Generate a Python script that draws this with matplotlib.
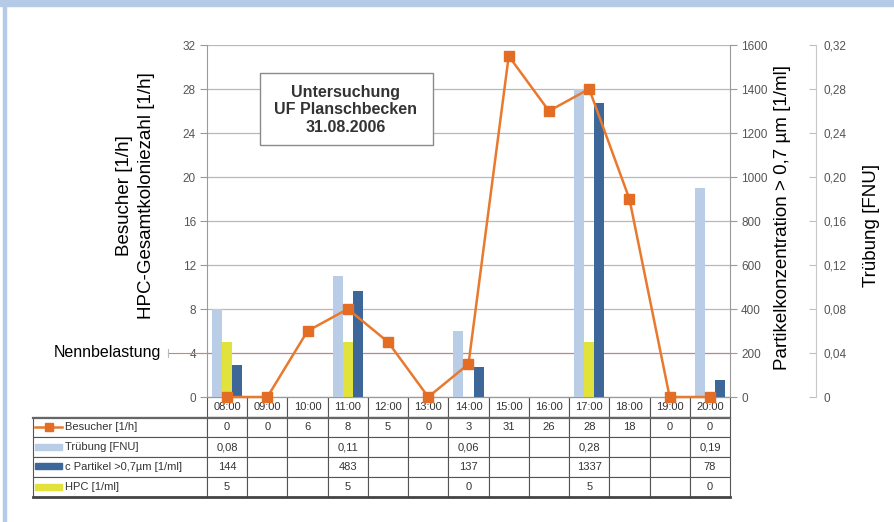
import matplotlib
matplotlib.use("Agg")
import matplotlib.pyplot as plt
import matplotlib.ticker as mticker
from matplotlib.patches import Rectangle
from matplotlib.lines import Line2D
import numpy as np

plt.rcParams["font.family"] = ["Liberation Sans", "DejaVu Sans"]

# ── data ───────────────────────────────────────────────────────────────
zeiten   = ["08:00", "09:00", "10:00", "11:00", "12:00", "13:00", "14:00",
            "15:00", "16:00", "17:00", "18:00", "19:00", "20:00"]
besucher = [0, 0, 6, 8, 5, 0, 3, 31, 26, 28, 18, 0, 0]
truebung = [0.08, None, None, 0.11, None, None, 0.06, None, None, 0.28, None, None, 0.19]
partikel = [144, None, None, 483, None, None, 137, None, None, 1337, None, None, 78]
hpc      = [5, None, None, 5, None, None, 0, None, None, 5, None, None, 0]
nennbelastung = 4

row_labels = ["Besucher [1/h]", "Trübung [FNU]", "c Partikel >0,7µm [1/ml]", "HPC [1/ml]"]

C_LINE  = "#e8792d"
C_TRUEB = "#b9cde6"
C_PART  = "#3d6699"
C_HPC   = "#e2e23c"
C_FRAME = "#b4cae6"

W, H = 895, 522
fig = plt.figure(figsize=(W / 100, H / 100), dpi=100)

# light blue frame (top band + left line)
fig.patches.append(Rectangle((0, 1 - 6 / H), 1, 6 / H, transform=fig.transFigure,
                             color=C_FRAME, zorder=0))
fig.patches.append(Rectangle((3 / W, 0), 3 / W, 1, transform=fig.transFigure,
                             color=C_FRAME, zorder=0))

ax = fig.add_axes([207 / W, 1 - 397 / H, 523 / W, 352 / H])
ax_p = ax.twinx()
ax_t = ax.twinx()
ax_v = ax.twinx()

x = np.arange(len(zeiten))
bw = 0.25


def pick(vals):
    idx = [i for i, v in enumerate(vals) if v is not None]
    return np.array(idx), np.array([vals[i] for i in idx])


# ── left axis: grid, Nennbelastung, HPC ─────────────────────────────────
ax.set_xlim(-0.5, len(zeiten) - 0.5)
ax.set_ylim(0, 32)
ax.set_yticks(range(0, 33, 4))
ax.set_xticks([])
ax.yaxis.grid(True, color="#b8b8b8", lw=0.9, zorder=0)
ax.set_axisbelow(True)
for s in ["top", "right"]:
    ax.spines[s].set_visible(False)
ax.spines["left"].set_color("#9a9a9a")
ax.spines["bottom"].set_color("#9a9a9a")
ax.tick_params(axis="y", direction="out", length=5, color="#9a9a9a",
               labelsize=8.5, labelcolor="#555555", pad=3)

x_ext = -0.5 - 39 / (523 / len(zeiten))
ax.plot([x_ext, len(zeiten) - 0.5], [nennbelastung, nennbelastung],
        color="#e27a6c", lw=0.8, zorder=1, clip_on=False)
ax.plot([x_ext, x_ext], [nennbelastung - 0.4, nennbelastung + 0.4],
        color="#bbbbbb", lw=0.8, clip_on=False)
fig.text(161 / W, 1 - 353 / H, "Nennbelastung", fontsize=11.5,
         ha="right", va="center")

ix, vals = pick(hpc)
ax.bar(ix, vals, bw, color=C_HPC, zorder=2)

# ── right axis 1: particles ─────────────────────────────────────────────
ax_p.set_ylim(0, 1600)
ax_p.set_yticks(range(0, 1601, 200))
for s in ["top", "left", "bottom"]:
    ax_p.spines[s].set_visible(False)
ax_p.spines["right"].set_color("#9a9a9a")
ax_p.tick_params(axis="y", direction="out", length=5, color="#9a9a9a",
                 labelsize=8.5, labelcolor="#555555", pad=3)
ix, vals = pick(partikel)
ax_p.bar(ix + bw, vals, bw, color=C_PART, zorder=2)

# ── right axis 2: turbidity ─────────────────────────────────────────────
ax_t.set_ylim(0, 0.32)
ax_t.set_yticks(np.arange(0, 0.33, 0.04))
ax_t.yaxis.set_major_formatter(mticker.FuncFormatter(
    lambda v, _: "0" if abs(v) < 1e-9 else f"{v:.2f}".replace(".", ",")))
for s in ["top", "left", "bottom"]:
    ax_t.spines[s].set_visible(False)
ax_t.spines["right"].set_position(("outward", 62))
ax_t.spines["right"].set_color("#c8c8c8")
ax_t.tick_params(axis="y", direction="in", length=5, color="#c0c0c0",
                 labelsize=8.5, labelcolor="#555555", pad=5)
ix, vals = pick(truebung)
ax_t.bar(ix - bw, vals, bw, color=C_TRUEB, zorder=2)

# ── visitors line on top ────────────────────────────────────────────────
ax_v.set_ylim(0, 32)
ax_v.axis("off")
ax_v.plot(x, besucher, color=C_LINE, lw=1.8, marker="s", ms=6.5,
          mfc="#e36d24", mec="#e36d24", clip_on=False, zorder=5)

# ── title box ───────────────────────────────────────────────────────────
box = Rectangle(((260 - 207) / 523, (397 - 145) / 352), 173 / 523, 72 / 352,
                transform=ax.transAxes, facecolor="white", edgecolor="#8a8a8a",
                lw=1.0, zorder=3)
ax.add_patch(box)
ax.text((346 - 207) / 523, (397 - 110) / 352,
        "Untersuchung\nUF Planschbecken\n31.08.2006",
        transform=ax.transAxes, ha="center", va="center", fontsize=11.5,
        fontweight="bold", color="#333333", linespacing=1.2, zorder=4)

# ── axis labels ─────────────────────────────────────────────────────────
fig.text(125 / W, 1 - 196 / H, "Besucher [1/h]", rotation=90,
         fontsize=13.5, ha="center", va="center")
fig.text(147 / W, 1 - 196 / H, "HPC-Gesamtkoloniezahl [1/h]", rotation=90,
         fontsize=13.5, ha="center", va="center")
fig.text(783 / W, 1 - 217 / H, "Partikelkonzentration > 0,7 µm [1/ml]",
         rotation=90, fontsize=13.5, ha="center", va="center")
fig.text(872 / W, 1 - 225 / H, "Trübung [FNU]", rotation=90,
         fontsize=13.5, ha="center", va="center")

# ── data table ──────────────────────────────────────────────────────────
def fmt(vals, dec=False):
    out = []
    for v in vals:
        if v is None:
            out.append("")
        elif dec:
            out.append(f"{v:.2f}".replace(".", ","))
        else:
            out.append(f"{v:d}")
    return out


cell_text = [
    [row_labels[0]] + fmt(besucher),
    [row_labels[1]] + fmt(truebung, dec=True),
    [row_labels[2]] + fmt(partikel),
    [row_labels[3]] + fmt(hpc),
]
lab_w = 174 / 523
col_w = [lab_w] + [1 / len(zeiten)] * len(zeiten)
tbl = ax.table(cellText=cell_text, colLabels=[""] + zeiten, colWidths=col_w,
               cellLoc="center", bbox=[-lab_w, -100 / 352, 1 + lab_w, 100 / 352])
tbl.auto_set_font_size(False)
tbl.set_fontsize(8)
for (r, c), cell in tbl.get_celld().items():
    cell.set_edgecolor("#555555")
    cell.set_linewidth(0.8)
    cell.get_text().set_color("#333333")
    if r == 0 and c == 0:
        cell.visible_edges = ""
    if c == 0 and r > 0:
        cell.PAD = 0.185
        cell.get_text().set_ha("left")
        cell._loc = "left"

# legend keys inside the label column
def ax_x(px):
    return (px - 207) / 523


def ax_y(py):
    return (397 - py) / 352


# heavier rules under the header and along the bottom
ax.add_line(Line2D([ax_x(33), 1], [ax_y(417.5)] * 2, color="#666666", lw=1.6,
                   transform=ax.transAxes, clip_on=False, zorder=6))
ax.add_line(Line2D([ax_x(33), 1], [ax_y(497)] * 2, color="#444444", lw=2.0,
                   transform=ax.transAxes, clip_on=False, zorder=6))

row_cy = [427, 446.5, 466, 486.5]
ax.add_line(Line2D([ax_x(35), ax_x(62)], [ax_y(row_cy[0])] * 2, color=C_LINE, lw=1.8,
                   transform=ax.transAxes, clip_on=False))
ax.add_line(Line2D([ax_x(48.5)], [ax_y(row_cy[0])], marker="s", ms=6, color="#e36d24",
                   transform=ax.transAxes, clip_on=False))
for cy, col in zip(row_cy[1:], [C_TRUEB, C_PART, C_HPC]):
    ax.add_patch(Rectangle((ax_x(35), ax_y(cy + 3)), 27 / 523, 6 / 352,
                           transform=ax.transAxes, color=col, clip_on=False))

fig.savefig("out.png", dpi=100)
